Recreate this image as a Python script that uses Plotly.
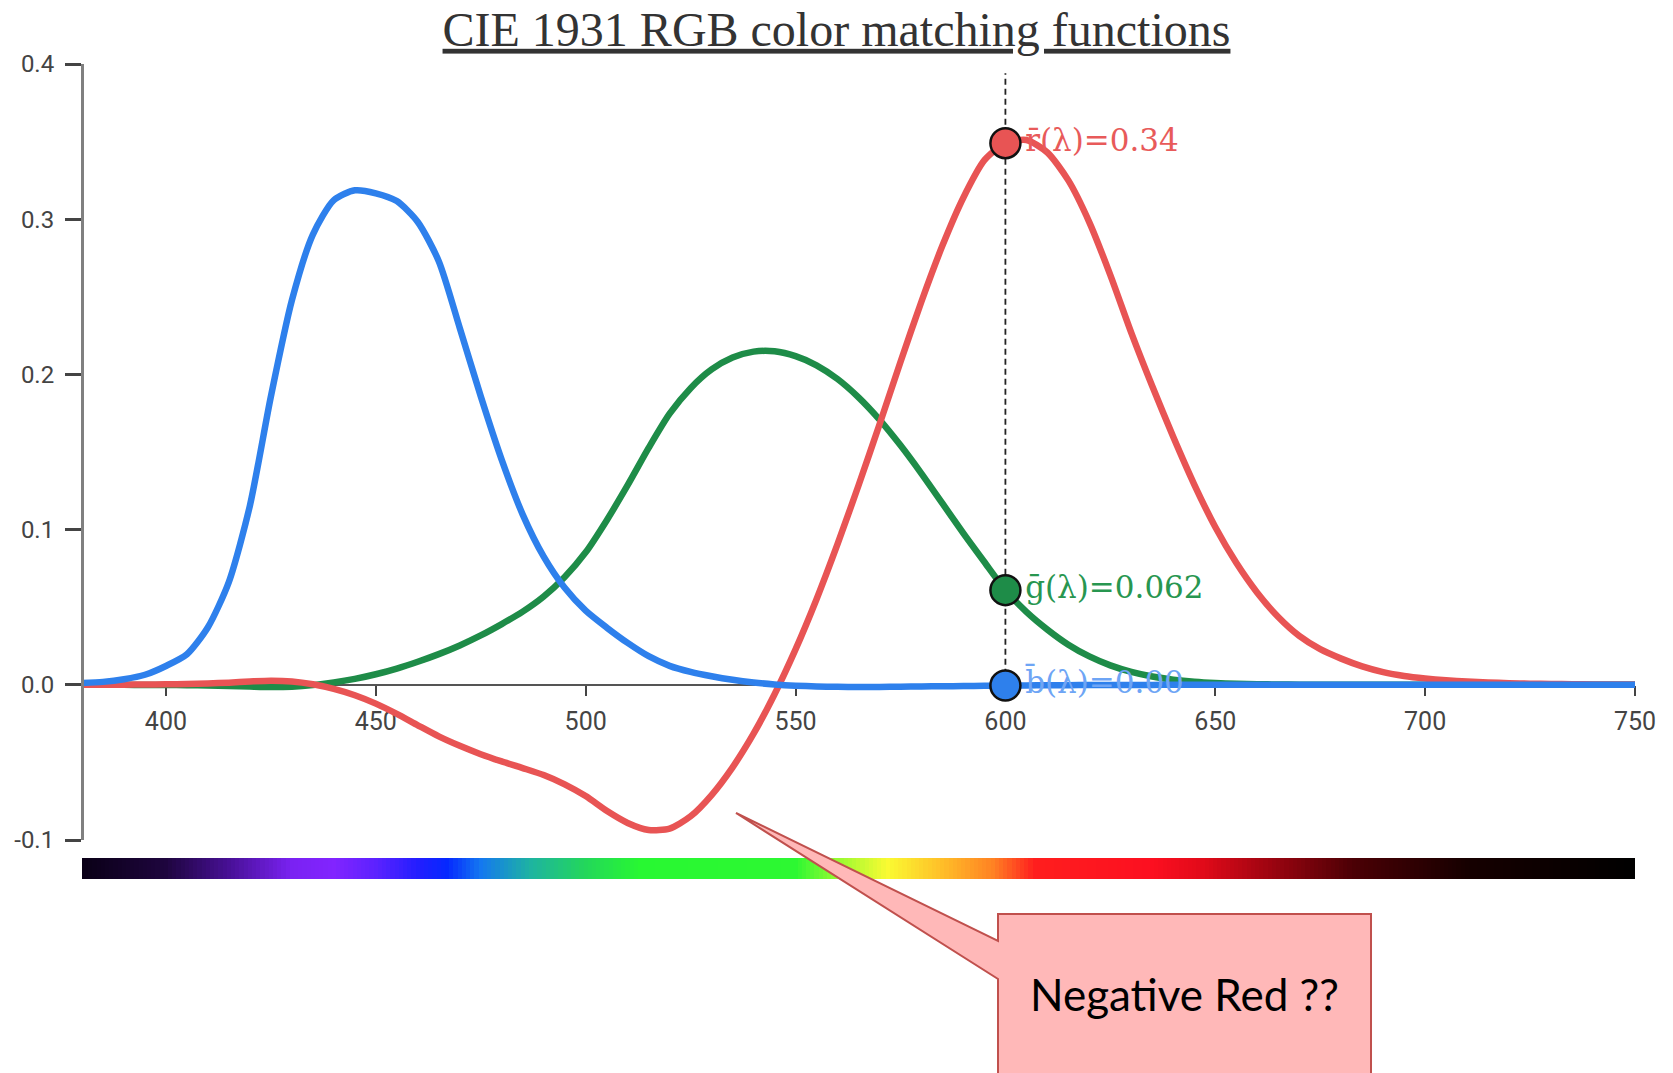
import numpy as np
import plotly.graph_objects as go

# ---------------- data ----------------
wavelengths = list(range(380, 755, 5))

r_bar = [0.00003, 0.00005, 0.00010, 0.00017, 0.00030, 0.00047, 0.00084, 0.00139, 0.00211, 0.00266,
         0.00218, 0.00036, -0.00261, -0.00673, -0.01213, -0.01874, -0.02608, -0.03324, -0.03933, -0.04471,
         -0.04939, -0.05364, -0.05814, -0.06414, -0.07173, -0.08120, -0.08901, -0.09356, -0.09264, -0.08473,
         -0.07101, -0.05316, -0.03152, -0.00613, 0.02279, 0.05514, 0.09060, 0.12840, 0.16768, 0.20800,
         0.24700, 0.28300, 0.31400, 0.33800, 0.34900, 0.35100, 0.34300, 0.32500, 0.29800, 0.26400,
         0.22677, 0.19233, 0.15968, 0.12905, 0.10167, 0.07857, 0.05932, 0.04366, 0.03149, 0.02294,
         0.01687, 0.01187, 0.00819, 0.00572, 0.00410, 0.00291, 0.00210, 0.00148, 0.00105, 0.00074,
         0.00052, 0.00036, 0.00025, 0.00017, 0.00012]

g_bar = [-0.00001, -0.00002, -0.00004, -0.00007, -0.00014, -0.00022, -0.00041, -0.00070, -0.00110, -0.00143,
         -0.00119, -0.00021, 0.00149, 0.00379, 0.00678, 0.01046, 0.01485, 0.01977, 0.02538, 0.03183,
         0.03914, 0.04713, 0.05689, 0.06948, 0.08536, 0.10593, 0.12860, 0.15262, 0.17468, 0.19113,
         0.20317, 0.21083, 0.21466, 0.21487, 0.21178, 0.20588, 0.19702, 0.18522, 0.17087, 0.15429,
         0.13610, 0.11686, 0.09754, 0.07909, 0.06100, 0.04700, 0.03557, 0.02583, 0.01828, 0.01253,
         0.00833, 0.00537, 0.00334, 0.00199, 0.00116, 0.00066, 0.00037, 0.00021, 0.00011, 0.00006,
         0.00003, 0.00001, 0.0, 0.0, 0.0, 0.0, 0.0, 0.0, 0.0, 0.0,
         0.0, 0.0, 0.0, 0.0, 0.0]

b_bar = [0.00117, 0.00189, 0.00359, 0.00647, 0.01214, 0.01969, 0.03707, 0.06637, 0.11541, 0.18575,
         0.24769, 0.29012, 0.31228, 0.31860, 0.31670, 0.31166, 0.29821, 0.27295, 0.22991, 0.18592,
         0.14494, 0.10968, 0.08257, 0.06246, 0.04776, 0.03688, 0.02698, 0.01842, 0.01221, 0.00830,
         0.00549, 0.00320, 0.00146, 0.00023, -0.00058, -0.00105, -0.00130, -0.00138, -0.00135, -0.00123,
         -0.00108, -0.00093, -0.00079, -0.00063, -0.00049, -0.00038, -0.00030, -0.00022, -0.00015, -0.00011,
         -0.00008, -0.00005, -0.00003, -0.00002, -0.00001, -0.00001, 0.0, 0.0, 0.0, 0.0,
         0.0, 0.0, 0.0, 0.0, 0.0, 0.0, 0.0, 0.0, 0.0, 0.0,
         0.0, 0.0, 0.0, 0.0, 0.0]

cursor_wl = 600
cursor_labels = ["r\u0304(\u03bb)=0.34", "g\u0304(\u03bb)=0.062", "b\u0304(\u03bb)=0.00"]

x_ticks = [400, 450, 500, 550, 600, 650, 700, 750]
y_ticks = [-0.1, 0.0, 0.1, 0.2, 0.3, 0.4]
y_tick_text = ["-0.1", "0.0", "0.1", "0.2", "0.3", "0.4"]

spectrum_wl = [380, 400, 415, 430, 440, 450, 460, 467, 475, 487, 500, 513, 550, 560, 572,
               585, 597, 607, 635, 647, 660, 683, 710, 750]
spectrum_col = ["rgb(10,0,22)", "rgb(30,5,62)", "rgb(72,16,150)", "rgb(122,34,242)", "rgb(130,36,255)",
                "rgb(92,34,255)", "rgb(35,30,255)", "rgb(5,40,255)", "rgb(20,120,240)", "rgb(30,180,160)",
                "rgb(35,215,90)", "rgb(40,248,50)", "rgb(45,248,50)", "rgb(150,250,50)", "rgb(250,250,50)",
                "rgb(255,190,40)", "rgb(255,130,35)", "rgb(255,30,30)", "rgb(252,15,32)", "rgb(225,10,25)",
                "rgb(170,5,18)", "rgb(75,0,5)", "rgb(22,0,0)", "rgb(0,0,0)"]

callout_text = "Negative Red ??"

# ---------------- styling ----------------
RED = "rgb(232,84,84)"
GREEN = "rgb(30,140,72)"
BLUE = "rgb(46,128,236)"
LABEL_COLS = ["rgb(232,90,90)", "rgb(40,150,80)", "rgb(110,165,245)"]

W, H = 1673, 1073
PL, PR, PT, PB = 82, 1635, 64, 879          # plotting area in pixels
MAIN_BOTTOM_PX, BAR_TOP_PX = 840, 858
XR = [380, 750]
YR = [-0.1, 0.4]

def paper_x(px):
    return (px - PL) / (PR - PL)

def paper_y(py):
    return (PB - py) / (PB - PT)

d_main = paper_y(MAIN_BOTTOM_PX)
d_bar = paper_y(BAR_TOP_PX)
x_axis_pos = d_main + (0 - YR[0]) / (YR[1] - YR[0]) * (1 - d_main)

fig = go.Figure()

# spectrum strip
spec_x = np.arange(XR[0], XR[1] + 1, 1)
cs = [[(w - XR[0]) / (XR[1] - XR[0]), c] for w, c in zip(spectrum_wl, spectrum_col)]
fig.add_trace(go.Heatmap(x=spec_x, y=[0], z=[spec_x], colorscale=cs, zmin=XR[0], zmax=XR[1],
                         showscale=False, zsmooth=False, xaxis="x", yaxis="y2", hoverinfo="skip"))

for vals, col in [(g_bar, GREEN), (r_bar, RED), (b_bar, BLUE)]:
    fig.add_trace(go.Scatter(x=wavelengths, y=vals, mode="lines",
                             line=dict(color=col, width=6.5, shape="spline", smoothing=0.7),
                             hoverinfo="skip", showlegend=False, cliponaxis=False))

idx = wavelengths.index(cursor_wl)
cursor_vals = [r_bar[idx], g_bar[idx], b_bar[idx]]
fig.add_trace(go.Scatter(x=[cursor_wl] * 3, y=cursor_vals, mode="markers+text",
                         text=cursor_labels, textposition="middle right",
                         textfont=dict(family="DejaVu Serif", size=31, color=LABEL_COLS),
                         marker=dict(size=30, color=[RED, GREEN, BLUE], line=dict(color="#111", width=2.5)),
                         cliponaxis=False, showlegend=False, hoverinfo="skip"))

# cursor dashed line
fig.add_shape(type="line", xref="x", yref="y", x0=cursor_wl, x1=cursor_wl, y0=0, y1=0.394,
              line=dict(color="#222", width=1.8, dash="6px,4px"), layer="below")

# callout
tip = (736, 813)
bl, br, bt, bb = 998, 1371, 914, 1080
a1, a2 = 941, 979
pts = [(bl, bt), (br, bt), (br, bb), (bl, bb), (bl, a2), tip, (bl, a1)]
path = "M " + " L ".join(f"{paper_x(x):.5f},{paper_y(y):.5f}" for x, y in pts) + " Z"
fig.add_shape(type="path", xref="paper", yref="paper", path=path,
              fillcolor="rgb(255,184,184)", line=dict(color="rgb(192,80,77)", width=2), layer="above")
fig.add_annotation(xref="paper", yref="paper", x=paper_x(1184), y=paper_y(994), text=callout_text,
                   showarrow=False, font=dict(family="Lato", size=44, color="#000"),
                   xanchor="center", yanchor="middle")

fig.update_layout(
    width=W, height=H, autosize=False,
    margin=dict(l=PL, r=W - PR, t=PT, b=H - PB, pad=0),
    paper_bgcolor="white", plot_bgcolor="white", showlegend=False,
    title=dict(text="CIE 1931 RGB color matching functions", x=0.5, xref="container", xanchor="center",
               y=1 - 29 / H, yref="container", yanchor="middle",
               font=dict(family="Liberation Serif", size=48, color="#333", lineposition="under")),
    xaxis=dict(domain=[0, 1], range=XR, anchor="free", position=x_axis_pos,
               showline=True, linecolor="#555", linewidth=2, ticks="outside", ticklen=10, tickwidth=2,
               tickcolor="#444", tickvals=x_ticks, tickfont=dict(family="Roboto", size=25, color="#444"),
               showgrid=False, zeroline=False, layer="below traces", ticklabelstandoff=4),
    yaxis=dict(domain=[d_main, 1], range=YR, anchor="free", position=0,
               showline=True, linecolor="#808080", linewidth=3, ticks="outside", ticklen=16, tickwidth=2.5,
               tickcolor="#444", tickvals=y_ticks, ticktext=y_tick_text,
               tickfont=dict(family="Roboto", size=24, color="#444"),
               showgrid=False, zeroline=False, ticklabelstandoff=6),
    yaxis2=dict(domain=[0, d_bar], range=[-0.5, 0.5], anchor="free", position=0, visible=False),
)

fig.write_html("out.html")
